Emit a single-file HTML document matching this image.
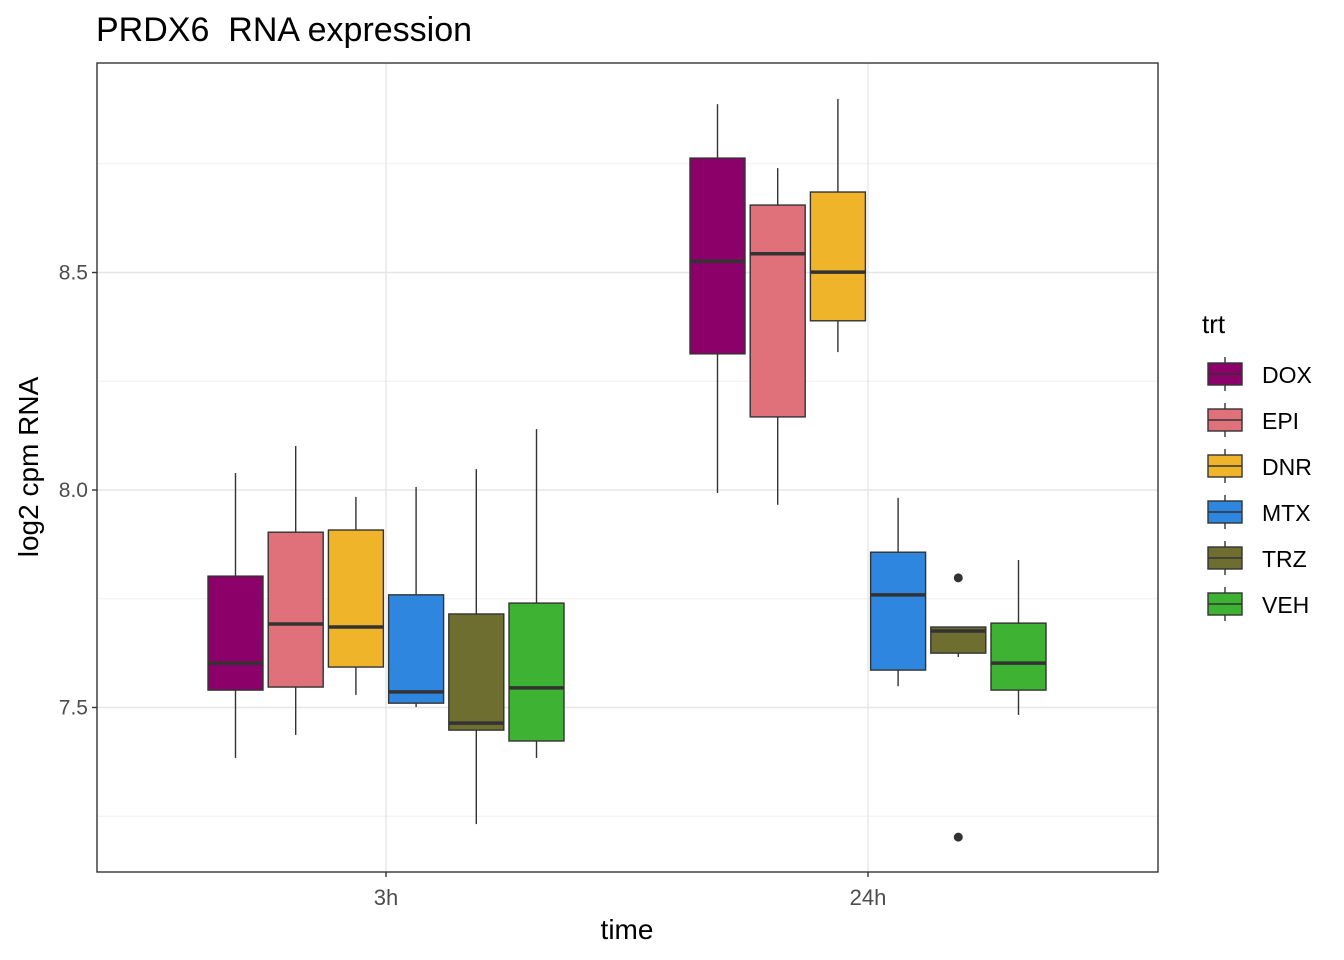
<!DOCTYPE html>
<html><head><meta charset="utf-8"><style>
body{margin:0;background:#fff;font-family:"Liberation Sans",Arial,sans-serif}
svg{display:block}
</style></head><body>
<svg id="chart" width="1344" height="960" xmlns="http://www.w3.org/2000/svg"></svg>
<script>
const times=["3h","24h"];
const treatments=["DOX","EPI","DNR","MTX","TRZ","VEH"];
const colors=["#8B0069","#E0707A","#F0B42A","#2E86DE","#6E6E30","#3DB233"];
// [whiskerLow, q1, median, q3, whiskerHigh]
const stats3h=[
[7.384,7.540,7.602,7.802,8.039],
[7.437,7.547,7.692,7.903,8.101],
[7.529,7.593,7.685,7.908,7.984],
[7.501,7.510,7.536,7.759,8.007],
[7.232,7.448,7.464,7.715,8.048],
[7.384,7.423,7.545,7.740,8.140]];
const stats24h=[
[7.993,8.313,8.526,8.763,8.887],
[7.966,8.168,8.543,8.655,8.740],
[8.317,8.389,8.501,8.685,8.899],
[7.549,7.586,7.759,7.857,7.982],
[7.616,7.625,7.676,7.685,7.685],
[7.483,7.540,7.602,7.694,7.839]];
const outliers=[{t:1,g:4,v:7.798},{t:1,g:4,v:7.202}];
const yMajor=[7.5,8.0,8.5];
const yMinor=[7.25,7.75,8.25,8.75];
const yLabels=["7.5","8.0","8.5"];

const P={l:97,r:1158,t:63,b:872};
const y=v=>490-(v-8.0)*435;
const xc=[386,868];
const dodge=60.2, bw=55;
const xg=(t,g)=>xc[t]+(g-2.5)*dodge;
const svg=document.getElementById('chart');
const NS="http://www.w3.org/2000/svg";
function mk(tag,attrs,parent){const e=document.createElementNS(NS,tag);for(const k in attrs)e.setAttribute(k,attrs[k]);(parent||svg).appendChild(e);return e;}
function txt(s,attrs){const e=mk('text',attrs);e.textContent=s;return e;}

const panel=mk('rect',{x:P.l,y:P.t,width:P.r-P.l,height:P.b-P.t,fill:'#fff'});


yMinor.forEach(v=>{const l=mk('line',{x1:P.l,x2:P.r,y1:y(v),y2:y(v),stroke:'#f0f0f0','stroke-width':1});

});
yMajor.forEach(v=>{const l=mk('line',{x1:P.l,x2:P.r,y1:y(v),y2:y(v),stroke:'#e6e6e6','stroke-width':1.4});

});
xc.forEach(x=>{const l=mk('line',{x1:x,x2:x,y1:P.t,y2:P.b,stroke:'#e6e6e6','stroke-width':1.4});

});

[stats3h,stats24h].forEach((S,t)=>{S.forEach((s,g)=>{
 const x=xg(t,g);
 const grp=mk('g',{});
 
 
 mk('line',{x1:x,x2:x,y1:y(s[4]),y2:y(s[3]),stroke:'#333','stroke-width':1.4},grp);
 mk('line',{x1:x,x2:x,y1:y(s[1]),y2:y(s[0]),stroke:'#333','stroke-width':1.4},grp);
 mk('rect',{x:x-bw/2,y:y(s[3]),width:bw,height:y(s[1])-y(s[3]),fill:colors[g],stroke:'#333','stroke-width':1.4},grp);
 mk('line',{x1:x-bw/2,x2:x+bw/2,y1:y(s[2]),y2:y(s[2]),stroke:'#333','stroke-width':3.5},grp);
});});
outliers.forEach(o=>{const c=mk('circle',{cx:xg(o.t,o.g),cy:y(o.v),r:4.5,fill:'#333'});

});

const border=mk('rect',{x:P.l,y:P.t,width:P.r-P.l,height:P.b-P.t,fill:'none',stroke:'#333','stroke-width':1.4});



yMajor.forEach((v,i)=>{mk('line',{x1:P.l-5,x2:P.l,y1:y(v),y2:y(v),stroke:'#333','stroke-width':1.4});
const t=txt(yLabels[i],{x:P.l-9,y:y(v)+7,'text-anchor':'end','font-size':21,fill:'#4d4d4d'});

});
times.forEach((s,i)=>{mk('line',{x1:xc[i],x2:xc[i],y1:P.b,y2:P.b+5,stroke:'#333','stroke-width':1.4});
const t=txt(s,{x:xc[i],y:905,'text-anchor':'middle','font-size':22,fill:'#4d4d4d'});

});

let e=txt('time',{x:627,y:939,'text-anchor':'middle','font-size':28,fill:'#000'});


e=txt('log2 cpm RNA',{x:38,y:467,'text-anchor':'middle','font-size':28,fill:'#000',transform:'rotate(-90 38 467)'});


e=txt('PRDX6\u00a0\u00a0RNA expression',{x:96,y:41,'font-size':34,fill:'#000'});



e=txt('trt',{x:1202,y:333,'font-size':26,fill:'#000'});


treatments.forEach((n,i)=>{
 const cy=374+i*46;
 const g=mk('g',{});
 
 
 mk('line',{x1:1225,x2:1225,y1:cy-17,y2:cy+17,stroke:'#333','stroke-width':1.4},g);
 mk('rect',{x:1208,y:cy-11,width:34,height:22,fill:colors[i],stroke:'#333','stroke-width':1.4},g);
 mk('line',{x1:1208,x2:1242,y1:cy,y2:cy,stroke:'#333','stroke-width':1.4},g);
 const t=mk('text',{x:1262,y:cy+9,'font-size':23,fill:'#000'},g);t.textContent=n;
});
</script>
</body></html>
